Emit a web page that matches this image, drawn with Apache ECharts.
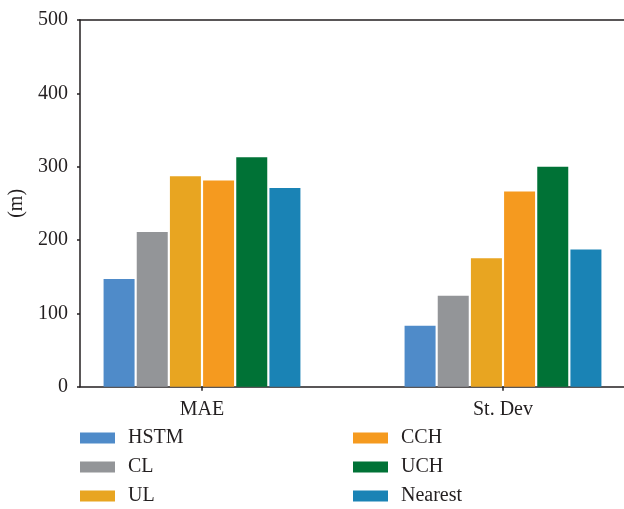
<!DOCTYPE html>
<html>
<head>
<meta charset="utf-8">
<script src="https://cdn.jsdelivr.net/npm/echarts@6/dist/echarts.min.js"></script>
<style>
  html, body { margin: 0; padding: 0; background: #fff; }
  #chart { width: 624px; height: 509px; }
</style>
</head>
<body>
<div id="chart"></div>
<script>
// Error statistics per method, in metres
const categories = ['MAE', 'St. Dev'];
const methods = ['HSTM', 'CL', 'UL', 'CCH', 'UCH', 'Nearest'];
const colors = ['#4f8bc9', '#939598', '#e8a521', '#f59a1f', '#007236', '#1a83b5'];
const hstm = [147, 83];
const cl = [211, 124];
const ul = [287, 175];
const cch = [281, 266];
const uch = [313, 300];
const nearest = [271, 187];
const seriesValues = [hstm, cl, ul, cch, uch, nearest];
const yTicks = [0, 100, 200, 300, 400, 500];

const FONT = '"Liberation Serif", "DejaVu Serif", serif';
const INK = '#231f20';

const chart = echarts.init(document.getElementById('chart'));

const series = methods.map((name, i) => ({
  name: name,
  type: 'bar',
  xAxisIndex: 0,
  yAxisIndex: 0,
  data: seriesValues[i],
  barWidth: 31,
  barGap: '7%',
  itemStyle: { color: colors[i] }
}));

chart.setOption({
  animation: false,
  color: colors,
  textStyle: { fontFamily: FONT, color: INK },
  grid: [
    // data grid: each category band centred on its tick
    { left: 51.5, width: 602, top: 20, bottom: 122.3, containLabel: false, outerBoundsMode: 'none' },
    // frame grid: visible value axis, baseline and top line
    { left: 80, right: 0, top: 20, bottom: 122.3, containLabel: false, outerBoundsMode: 'none' }
  ],
  xAxis: [
    {
      type: 'category',
      gridIndex: 0,
      data: categories,
      axisLine: { show: false },
      axisTick: { show: true, alignWithLabel: true, length: 4, lineStyle: { color: INK, width: 1.5 } },
      axisLabel: { fontFamily: FONT, fontSize: 20, color: INK, margin: 13 }
    },
    {
      type: 'value',
      gridIndex: 1,
      min: 0, max: 1,
      position: 'bottom',
      axisLine: { show: true, lineStyle: { color: INK, width: 1.5 } },
      axisTick: { show: false },
      axisLabel: { show: false },
      splitLine: { show: false }
    },
    {
      type: 'value',
      gridIndex: 1,
      min: 0, max: 1,
      position: 'top',
      axisLine: { show: true, lineStyle: { color: INK, width: 1.5 } },
      axisTick: { show: false },
      axisLabel: { show: false },
      splitLine: { show: false }
    }
  ],
  yAxis: [
    {
      type: 'value',
      gridIndex: 0,
      min: yTicks[0], max: yTicks[yTicks.length - 1], interval: 100,
      show: false
    },
    {
      type: 'value',
      gridIndex: 1,
      min: yTicks[0], max: yTicks[yTicks.length - 1], interval: 100,
      name: '(m)',
      nameLocation: 'middle',
      nameGap: 53,
      nameTextStyle: { fontFamily: FONT, fontSize: 20, color: INK },
      axisLine: { show: true, lineStyle: { color: INK, width: 1.5 } },
      axisTick: { show: true, length: 3, lineStyle: { color: INK, width: 1.5 } },
      axisLabel: { fontFamily: FONT, fontSize: 20, color: INK, margin: 12 },
      splitLine: { show: false }
    }
  ],
  legend: [
    {
      data: methods.slice(0, 3),
      orient: 'vertical',
      left: 80, top: 428,
      padding: 0,
      itemWidth: 35, itemHeight: 11, itemGap: 9,
      icon: 'rect',
      textStyle: { fontFamily: FONT, fontSize: 20, color: INK, padding: [0, 0, 0, 8] }
    },
    {
      data: methods.slice(3),
      orient: 'vertical',
      left: 353, top: 428,
      padding: 0,
      itemWidth: 35, itemHeight: 11, itemGap: 9,
      icon: 'rect',
      textStyle: { fontFamily: FONT, fontSize: 20, color: INK, padding: [0, 0, 0, 8] }
    }
  ],
  series: series
});
</script>
</body>
</html>
